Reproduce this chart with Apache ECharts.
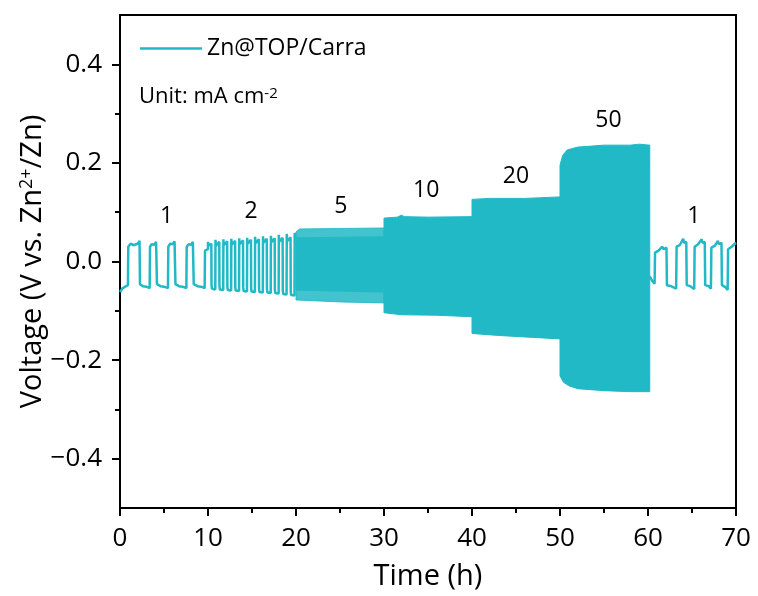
<!DOCTYPE html>
<html><head><meta charset="utf-8">
<script src="https://cdn.jsdelivr.net/npm/echarts@6/dist/echarts.min.js"></script>
<style>html,body{margin:0;padding:0;background:#fff}#c{width:758px;height:596px}</style>
</head><body><div id="c"></div><script>
const seriesName = 'Zn@TOP/Carra';
const teal = '#21B9C5';
const FONT = 'Open Sans';

// 1 mA cm-2 (0-10 h): [time h, voltage V]
const seg1mA = [[0.0,-0.062],[0.3,-0.054],[0.9,-0.048],[0.94,0.030],[1.2,0.036],[1.6,0.033],[2.1,0.037],[2.22,0.042],[2.27,-0.046],[2.6,-0.050],[3.0,-0.051],[3.37,-0.054],[3.41,0.030],[3.6,0.035],[3.9,0.034],[4.1,0.040],[4.15,0.043],[4.2,-0.046],[4.6,-0.050],[5.0,-0.051],[5.45,-0.054],[5.49,0.030],[5.7,0.036],[6.0,0.035],[6.2,0.041],[6.25,0.043],[6.3,-0.046],[6.7,-0.050],[7.1,-0.051],[7.54,-0.054],[7.58,0.030],[7.8,0.035],[8.1,0.034],[8.28,0.040],[8.33,0.043],[8.38,-0.046],[8.8,-0.050],[9.2,-0.051],[9.62,-0.054],[9.66,0.022],[10.0,0.025]];
// 2 mA cm-2 (10-20 h)
const seg2mA = [[10.00,0.040],[10.05,0.032],[10.38,0.036],[10.40,-0.048],[10.45,-0.055],[10.83,-0.057],
[10.85,0.044],[10.90,0.032],[11.28,0.040],[11.30,-0.050],[11.35,-0.057],[11.73,-0.058],
[11.75,0.045],[11.80,0.033],[12.18,0.041],[12.20,-0.051],[12.25,-0.058],[12.63,-0.059],
[12.65,0.046],[12.70,0.034],[13.08,0.042],[13.10,-0.052],[13.15,-0.059],[13.53,-0.060],
[13.55,0.047],[13.60,0.035],[13.98,0.043],[14.00,-0.053],[14.05,-0.060],[14.43,-0.061],
[14.45,0.048],[14.50,0.036],[14.88,0.044],[14.90,-0.054],[14.95,-0.061],[15.33,-0.062],
[15.35,0.050],[15.40,0.037],[15.78,0.045],[15.80,-0.055],[15.85,-0.062],[16.23,-0.063],
[16.25,0.051],[16.30,0.038],[16.68,0.046],[16.70,-0.056],[16.75,-0.063],[17.13,-0.064],
[17.15,0.052],[17.20,0.039],[17.58,0.047],[17.60,-0.057],[17.65,-0.064],[18.03,-0.065],
[18.05,0.054],[18.10,0.040],[18.48,0.048],[18.50,-0.058],[18.55,-0.066],[18.93,-0.067],
[18.95,0.056],[19.00,0.041],[19.38,0.049],[19.40,-0.060],[19.45,-0.068],[19.83,-0.069],
[19.85,0.058],[19.90,0.045],[20.00,0.050]];
// back to 1 mA cm-2 (60-70 h)
const seg1mAEnd = [[60.2,-0.030],[60.5,-0.040],[60.75,-0.045],[60.8,0.018],[61.2,0.022],[61.6,0.030],[61.8,0.025],[62.1,0.028],[62.15,-0.048],[62.6,-0.050],[63.2,-0.055],[63.25,0.030],[63.6,0.033],[64.0,0.046],[64.1,0.038],[64.35,0.040],[64.4,-0.048],[64.8,-0.050],[65.25,-0.056],[65.3,0.030],[65.7,0.035],[66.1,0.045],[66.2,0.038],[66.45,0.040],[66.5,-0.048],[66.9,-0.050],[67.15,-0.055],[67.2,0.028],[67.6,0.032],[67.95,0.042],[68.05,0.035],[68.35,0.038],[68.4,-0.048],[68.8,-0.052],[69.05,-0.058],[69.1,0.025],[69.5,0.030],[70.0,0.038]];

// dense cycling envelopes (upper / lower voltage vs time)
const band5Upper = [[20.0,0.060],[20.4,0.066],[25.0,0.067],[30.0,0.068]];
const band5Lower = [[20.0,-0.078],[25.0,-0.082],[30.0,-0.084]];
const band5CoreUpper = [[20.0,0.048],[30.0,0.050]];
const band5CoreLower = [[20.0,-0.058],[30.0,-0.062]];
const band10Upper = [[30.0,0.088],[31.5,0.090],[32.0,0.094],[32.3,0.091],[35.0,0.090],[40.0,0.091]];
const band10Lower = [[30.0,-0.104],[32.0,-0.108],[36.0,-0.109],[40.0,-0.112]];
const band20Upper = [[40.0,0.126],[42.0,0.128],[46.0,0.128],[50.0,0.131]];
const band20Lower = [[40.0,-0.146],[43.0,-0.150],[47.0,-0.154],[50.0,-0.157]];
const band50Upper = [[50.0,0.195],[50.3,0.215],[50.8,0.226],[52.0,0.232],[55.0,0.236],[58.0,0.236],[59.0,0.238],[60.2,0.236]];
const band50Lower = [[50.0,-0.232],[50.4,-0.245],[51.0,-0.252],[52.0,-0.258],[55.0,-0.262],[58.0,-0.264],[60.2,-0.264]];

// current-density annotations
const rateTimes = [5.3, 14.9, 25.1, 34.8, 45.0, 55.5, 65.2];
const rateVolts = [0.091, 0.101, 0.111, 0.145, 0.173, 0.286, 0.091];
const rateLabels = ['1','2','5','10','20','50','1'];

const yMajorTicks = [-0.4,-0.2,0,0.2,0.4];
const yMinorTicks = [-0.3,-0.1,0.1,0.3];

const bands = [
  {upper: band5Upper, lower: band5Lower, fill: 'rgba(33,185,197,0.85)'},
  {upper: band5CoreUpper, lower: band5CoreLower, fill: teal},
  {upper: band10Upper, lower: band10Lower, fill: teal},
  {upper: band20Upper, lower: band20Lower, fill: teal},
  {upper: band50Upper, lower: band50Lower, fill: teal}
];

const fmtY = v => { const r = Math.round(v*10)/10; return (r < 0 ? '\u2212' : '') + Math.abs(r).toFixed(1); };
const axisLineStyle = {color:'#000', width:2};

const chart = echarts.init(document.getElementById('c'), null, {renderer:'canvas'});
chart.setOption({
  animation:false,
  backgroundColor:'#fff',
  grid:{left:120, right:22, top:15, bottom:86, containLabel:false},
  legend:{data:[{name:seriesName, icon:'rect'}], left:140, top:37, padding:0, itemWidth:62, itemHeight:2.5, itemGap:5,
    itemStyle:{color:teal},
    textStyle:{fontSize:23, fontFamily:FONT, color:'#000'}},
  graphic:[{type:'text', left:139, top:86, style:{text:'Unit: mA cm{sup|-2}', fontSize:22, fontFamily:FONT, fill:'#000',
    rich:{sup:{fontSize:15, fontFamily:FONT, fill:'#000', verticalAlign:'top'}}}}],
  xAxis:[
    {type:'value', min:0, max:70, interval:10, position:'bottom',
     axisLine:{show:true, onZero:false, lineStyle:axisLineStyle},
     axisTick:{show:true, length:8, lineStyle:axisLineStyle},
     minorTick:{show:true, splitNumber:2, length:5, lineStyle:axisLineStyle},
     splitLine:{show:false},
     axisLabel:{fontSize:26, fontFamily:FONT, color:'#000', margin:18},
     name:'Time (h)', nameLocation:'middle', nameGap:54, nameMoveOverlap:false,
     nameTextStyle:{fontSize:29, fontFamily:FONT, color:'#000'}},
    {type:'value', min:0, max:70, position:'top',
     axisLine:{show:true, onZero:false, lineStyle:axisLineStyle},
     axisTick:{show:false}, axisLabel:{show:false}, splitLine:{show:false}}
  ],
  yAxis:[
    {type:'value', min:-0.5, max:0.5, interval:0.1, position:'left',
     axisLine:{show:true, onZero:false, lineStyle:axisLineStyle},
     axisTick:{show:true, length:8, customValues:yMajorTicks, lineStyle:axisLineStyle},
     axisLabel:{customValues:yMajorTicks, formatter:fmtY, fontSize:26, fontFamily:FONT, color:'#000', margin:18},
     splitLine:{show:false},
     name:'Voltage (V vs. Zn{sup|2+}/Zn)', nameLocation:'middle', nameGap:73, nameRotate:90, nameMoveOverlap:false,
     nameTextStyle:{fontSize:29, fontFamily:FONT, color:'#000',
       rich:{sup:{fontSize:18, fontFamily:FONT, color:'#000', verticalAlign:'top'}}}},
    {type:'value', min:-0.5, max:0.5, interval:0.1, position:'left',
     axisLine:{show:false},
     axisTick:{show:true, length:5, customValues:yMinorTicks, lineStyle:axisLineStyle},
     axisLabel:{show:false}, splitLine:{show:false}},
    {type:'value', min:-0.5, max:0.5, interval:0.1, position:'right',
     axisLine:{show:true, onZero:false, lineStyle:axisLineStyle},
     axisTick:{show:false}, axisLabel:{show:false}, splitLine:{show:false}}
  ],
  series:[
    {type:'custom', name:'dense cycling', coordinateSystem:'cartesian2d', silent:true, z:2,
     data: bands.map((b,i)=>[b.upper[0][0], b.upper[0][1], i]),
     encode:{x:0, y:1},
     renderItem:(params, api)=>{
       const b = bands[params.dataIndex];
       const pts = b.upper.map(p=>api.coord(p)).concat(b.lower.slice().reverse().map(p=>api.coord(p)));
       return {type:'polygon', shape:{points:pts}, style:{fill:b.fill, stroke:b.fill, lineWidth:1}};
     }},
    {type:'line', name:seriesName, data:seg1mA.concat(seg2mA), symbol:'none', z:3,
     lineStyle:{color:teal, width:2.5}, itemStyle:{color:teal}},
    {type:'line', name:seriesName, data:seg1mAEnd, symbol:'none', z:3,
     lineStyle:{color:teal, width:2.5}, itemStyle:{color:teal}},
    {type:'scatter', name:'rates', symbolSize:1, itemStyle:{color:'rgba(0,0,0,0)'}, silent:true, z:5,
     data: rateTimes.map((t,i)=>[t, rateVolts[i]]),
     label:{show:true, position:'inside', formatter:p=>rateLabels[p.dataIndex], fontSize:23, fontFamily:FONT, color:'#000', opacity:1}}
  ]
});
</script></body></html>
